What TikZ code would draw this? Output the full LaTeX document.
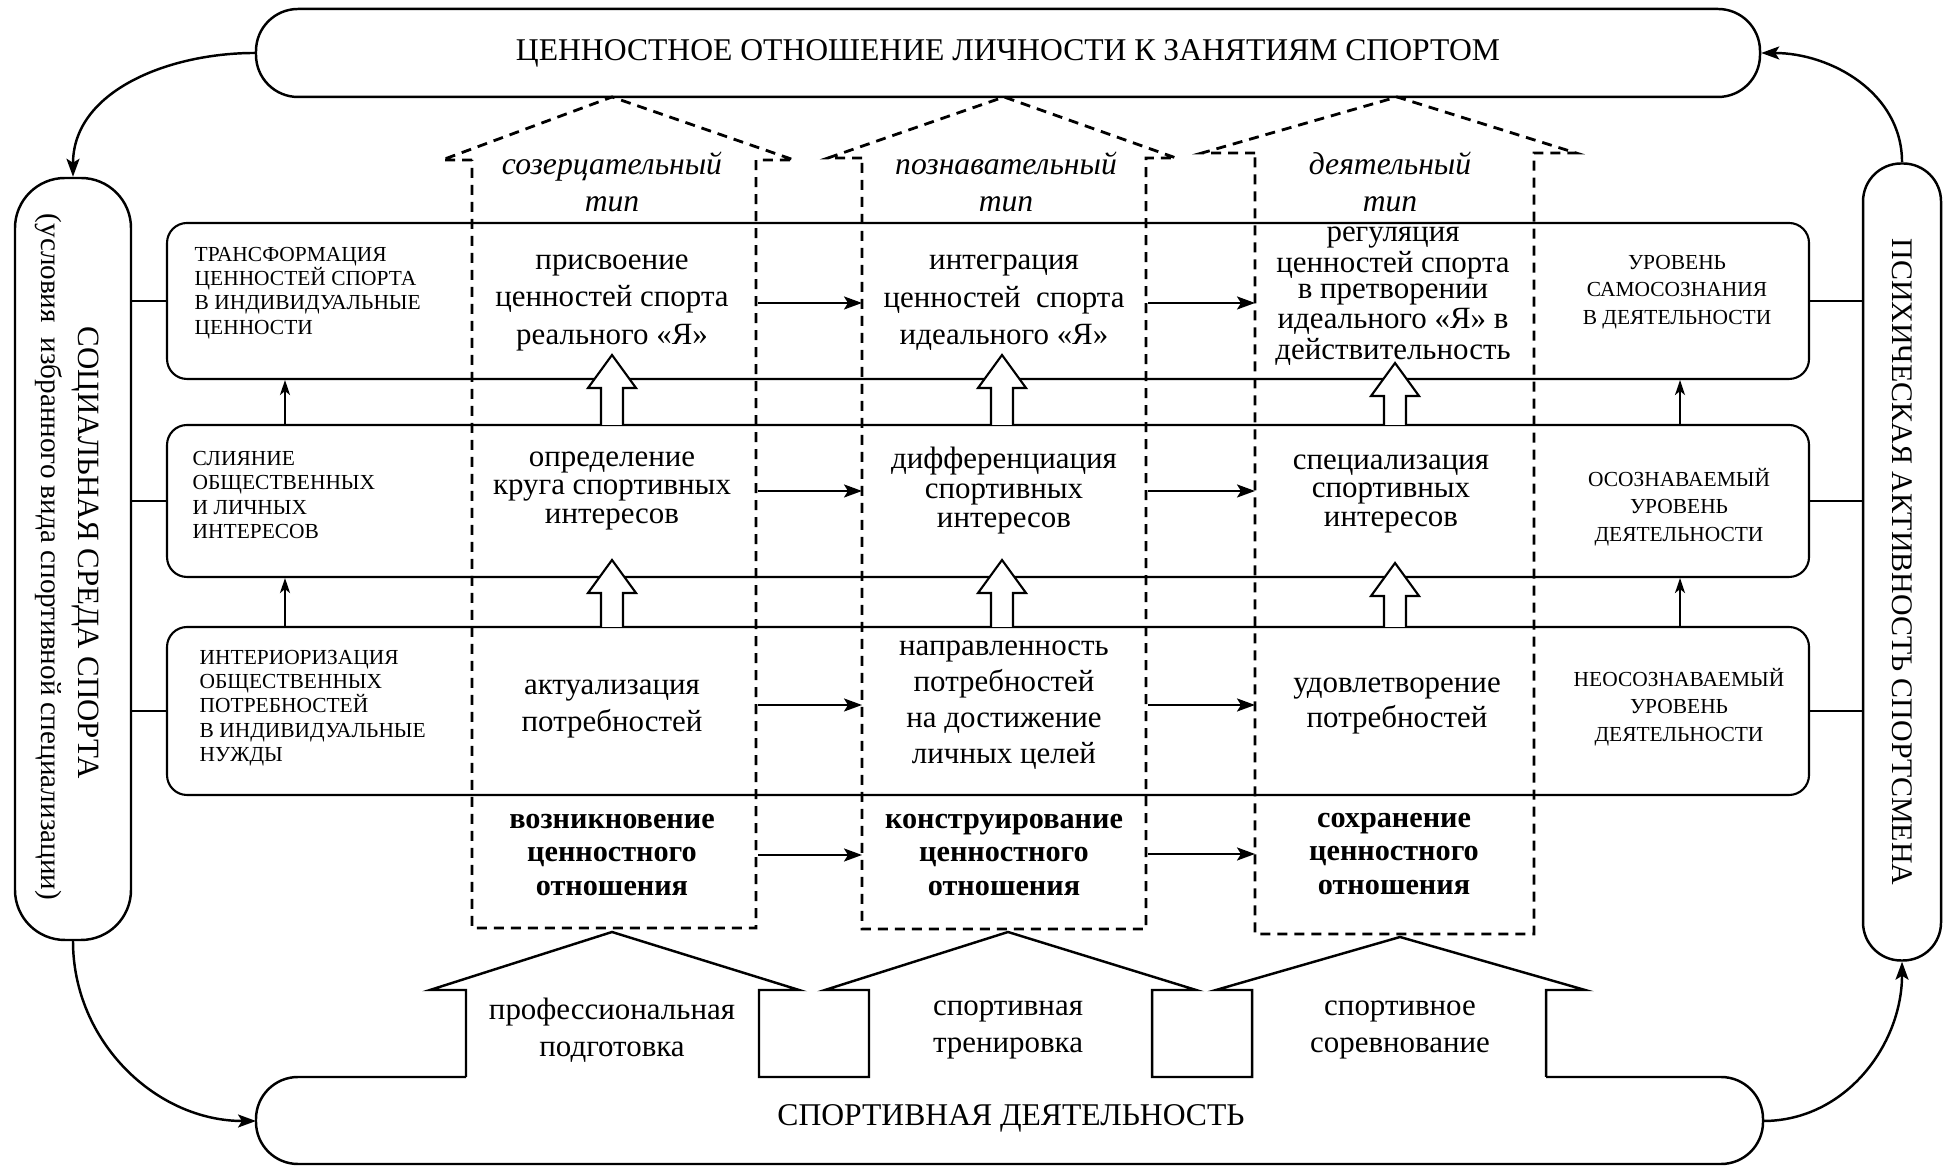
\documentclass[tikz,border=0pt]{standalone}
\usepackage{fontspec}
\setmainfont{Liberation Serif}
\usetikzlibrary{arrows.meta}
\tikzset{
  pill/.style={draw, line width=0.7pt, inner sep=0pt, font=\fontsize{9}{10.5}\selectfont},
  row/.style={draw, line width=0.6pt, rounded corners=2mm, inner sep=0pt, minimum width=164.2mm},
  txt/.style={inner sep=0pt, align=center},
  lcaps/.style={inner sep=0pt, align=left, anchor=west, font=\fontsize{6.1}{6.9}\selectfont},
  rcaps/.style={inner sep=0pt, align=center, font=\fontsize{6.1}{7.8}\selectfont},
  kind/.style={inner sep=0pt, align=center, font=\fontsize{9}{10.4}\selectfont\itshape},
  stage/.style={inner sep=0pt, align=center, font=\fontsize{8.6}{9.6}\selectfont\bfseries},
  house/.style={line width=0.8pt, dash pattern=on 1mm off 0.7mm},
  blk/.style={draw, fill=white, line width=0.6pt},
  arr/.style={line width=0.7pt, -{Stealth[length=1.8mm,width=1.3mm,inset=0.4mm]}},
  uparr/.style={line width=0.6pt, -{Stealth[length=1.5mm,width=1mm,inset=0.4mm]}},
}
\newcommand\blkup[3]{\draw[blk] (#1-11,#2) -- (#1-11,#3-33) -- (#1-24,#3-33) -- (#1,#3) -- (#1+24,#3-33) -- (#1+11,#3-33) -- (#1+11,#2);}

\begin{document}
\begin{tikzpicture}[x=0.1mm, y=0.1mm]
\useasboundingbox (0,0) rectangle (1948,1166);
\fill[white] (0,0) rectangle (1948,1166);

\node (top) at (1008,1113) [pill, rounded corners=4.2mm, minimum width=150.4mm, minimum height=8.8mm] {ЦЕННОСТНОЕ ОТНОШЕНИЕ ЛИЧНОСТИ К ЗАНЯТИЯМ СПОРТОМ};
\node (soc) at (73,607) [pill, rotate=-90, rounded corners=5mm, minimum width=76.2mm, minimum height=11.6mm] {};
\node (soct) at (85,613) [txt, rotate=-90, font=\fontsize{8.8}{10}\selectfont] {СОЦИАЛЬНАЯ СРЕДА СПОРТА};
\node (socs) at (49,609) [txt, rotate=-90, font=\fontsize{8.3}{10}\selectfont] {(условия\ \ избранного вида спортивной специализации)};
\node (psy) at (1902,604) [pill, rotate=-90, rounded corners=3.8mm, minimum width=79.7mm, minimum height=7.8mm, font=\fontsize{8.5}{10}\selectfont] {ПСИХИЧЕСКАЯ АКТИВНОСТЬ СПОРТСМЕНА};

\draw[line width=0.7pt, rounded corners=4.2mm] (466,89) -- (256,89) -- (256,2) -- (1763,2) -- (1763,89) -- (1546,89);
\draw[line width=0.7pt] (466,89) -- (466,176) -- (430,176) -- (612,234) -- (799,176) -- (759,176) -- (759,89) -- (869,89) -- (869,176) -- (825,176) -- (1008,234) -- (1196,176) -- (1152,176) -- (1152,89) -- (1252,89) -- (1252,176) -- (1216,176) -- (1400,229) -- (1585,176) -- (1546,176) -- (1546,89);
\node (act) at (1011,48) [font=\fontsize{9}{10.5}\selectfont] {СПОРТИВНАЯ ДЕЯТЕЛЬНОСТЬ};
\coordinate (actl) at (256,45);
\coordinate (actr) at (1763,45);
\node (h1) at (612,136) [txt, font=\fontsize{8.8}{10.5}\selectfont] {профессиональная\\подготовка};
\node (h2) at (1008,136) [txt, font=\fontsize{8.8}{10.5}\selectfont] {спортивная\\тренировка};
\node (h3) at (1400,136) [txt, font=\fontsize{8.8}{10.5}\selectfont] {спортивное\\соревнование};

\node (row1) at (988,865) [row, minimum height=15.6mm] {};
\node (row2) at (988,665) [row, minimum height=15.2mm] {};
\node (row3) at (988,455) [row, minimum height=16.8mm] {};

\draw[house] (472,1006) -- (442,1006) -- (612,1069) -- (794,1006) -- (756,1006) -- (756,238) -- (472,238) -- cycle;
\draw[house] (862,1008) -- (828,1008) -- (1004,1069) -- (1176,1008) -- (1146,1008) -- (1146,237) -- (862,237) -- cycle;
\draw[house] (1255,1013) -- (1202,1013) -- (1397,1069) -- (1576,1013) -- (1534,1013) -- (1534,232) -- (1255,232) -- cycle;
\coordinate (w1r) at (758,0);
\coordinate (w2l) at (862,0);
\coordinate (w2r) at (1148,0);
\coordinate (w3l) at (1255,0);
\coordinate (lx) at (285,0);
\coordinate (rx) at (1680,0);

\node (k1) at (612,984) [kind] {созерцательный\\тип};
\node (k2) at (1006,984) [kind] {познавательный\\тип};
\node (k3) at (1390,984) [kind] {деятельный\\тип};

\node (a1) at (612,863) [txt, font=\fontsize{8.8}{10.7}\selectfont] {присвоение\\ценностей спорта\\реального «Я»};
\node (a2) at (1004,863) [txt, font=\fontsize{8.8}{10.7}\selectfont] {интеграция\\ценностей\ \ спорта\\идеального «Я»};
\node (a3) at (1393,870) [txt, font=\fontsize{8.8}{7.4}\selectfont] {регуляция\\ценностей спорта\\в претворении\\идеального «Я» в\\действительность};
\node (b1) at (612,675) [txt, font=\fontsize{8.8}{8.2}\selectfont] {определение\\круга спортивных\\интересов};
\node (b2) at (1004,675) [txt, font=\fontsize{8.8}{8.4}\selectfont] {дифференциация\\спортивных\\интересов};
\node (b3) at (1391,672) [txt, font=\fontsize{8.8}{8.2}\selectfont] {специализация\\спортивных\\интересов};
\node (c1) at (612,457) [txt, font=\fontsize{8.8}{10.5}\selectfont] {актуализация\\потребностей};
\node (c2) at (1004,461) [txt, font=\fontsize{8.8}{10.2}\selectfont] {направленность\\потребностей\\на достижение\\личных целей};
\node (c3) at (1397,460) [txt, font=\fontsize{8.8}{10}\selectfont] {удовлетворение\\потребностей};
\node (d1) at (612,311) [stage] {возникновение\\ценностного\\отношения};
\node (d2) at (1004,311) [stage] {конструирование\\ценностного\\отношения};
\node (d3) at (1394,312) [stage] {сохранение\\ценностного\\отношения};

\node (l1) at (194,873) [lcaps] {ТРАНСФОРМАЦИЯ\\ЦЕННОСТЕЙ СПОРТА\\В ИНДИВИДУАЛЬНЫЕ\\ЦЕННОСТИ};
\node (l2) at (192,671) [lcaps] {СЛИЯНИЕ\\ОБЩЕСТВЕННЫХ\\И ЛИЧНЫХ\\ИНТЕРЕСОВ};
\node (l3) at (199,458) [lcaps] {ИНТЕРИОРИЗАЦИЯ\\ОБЩЕСТВЕННЫХ\\ПОТРЕБНОСТЕЙ\\В ИНДИВИДУАЛЬНЫЕ\\НУЖДЫ};
\node (r1) at (1677,874) [rcaps] {УРОВЕНЬ\\САМОСОЗНАНИЯ\\В ДЕЯТЕЛЬНОСТИ};
\node (r2) at (1679,659) [rcaps] {ОСОЗНАВАЕМЫЙ\\УРОВЕНЬ\\ДЕЯТЕЛЬНОСТИ};
\node (r3) at (1679,459) [rcaps] {НЕОСОЗНАВАЕМЫЙ\\УРОВЕНЬ\\ДЕЯТЕЛЬНОСТИ};

\draw[line width=0.6pt] (row1.west) -- (soc.north |- row1.west);
\draw[line width=0.6pt] (row2.west) -- (soc.north |- row2.west);
\draw[line width=0.6pt] (row3.west) -- (soc.north |- row3.west);
\draw[line width=0.6pt] (row1.east) -- (psy.south |- row1.east);
\draw[line width=0.6pt] (row2.east) -- (psy.south |- row2.east);
\draw[line width=0.6pt] (row3.east) -- (psy.south |- row3.east);

\draw[uparr] (lx |- row2.north) -- (lx |- row1.south);
\draw[uparr] (lx |- row3.north) -- (lx |- row2.south);
\draw[uparr] (rx |- row2.north) -- (rx |- row1.south);
\draw[uparr] (rx |- row3.north) -- (rx |- row2.south);

\draw[arr] (w1r |- a1) -- (w2l |- a1);
\draw[arr] (w2r |- a1) -- (w3l |- a1);
\draw[arr] (w1r |- b1) -- (w2l |- b1);
\draw[arr] (w2r |- b1) -- (w3l |- b1);
\draw[arr] (w1r |- c2) -- (w2l |- c2);
\draw[arr] (w2r |- c2) -- (w3l |- c2);
\draw[arr] (w1r |- d1) -- (w2l |- d1);
\draw[arr] (w2r |- d3) -- (w3l |- d3);

\blkup{612}{741}{811}
\blkup{1002}{741}{811}
\blkup{1395}{741}{803}
\blkup{612}{539}{606}
\blkup{1002}{539}{606}
\blkup{1395}{539}{603}

\draw[arr] (top.west) to[out=180, in=90] (soc.west);
\draw[arr] (soc.east) to[out=-90, in=180] (actl);
\draw[arr] (actr) to[out=0, in=-90] (psy.east);
\draw[arr] (psy.west) to[out=90, in=0] (top.east);
\end{tikzpicture}
\end{document}
